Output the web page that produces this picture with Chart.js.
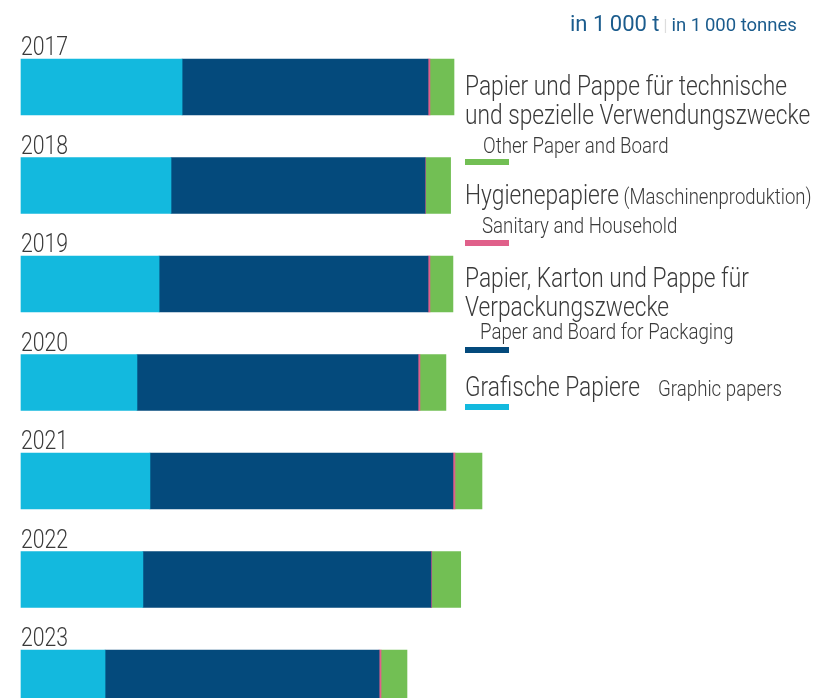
<!DOCTYPE html>
<html lang="de">
<head>
<meta charset="utf-8">
<title>Papierproduktion nach Sorten</title>
<script src="https://cdn.jsdelivr.net/npm/chart.js@4.4.1/dist/chart.umd.min.js"></script>
<style>
  body { margin: 0; background: #fff; }
  #wrap { position: relative; width: 818px; height: 698px; overflow: hidden; }
  #chart { position: absolute; left: 0; top: 0; }
  .txt { position: absolute; white-space: nowrap; font-family: Roboto, sans-serif; font-weight: 300; color: #3a3a3a; line-height: 28.5px; transform-origin: 0 0; }
  .de { font-size: 27px; transform: scaleX(0.842); }
  .en { font-size: 22px; transform: scaleX(0.85); }
  .note { font-size: 22px; }
  .swatch { position: absolute; width: 44px; height: 6px; }
  #unit { position: absolute; left: 570px; top: 11px; font-family: Roboto, sans-serif; color: #1b5c8d; white-space: nowrap; }
</style>
</head>
<body>
<div id="wrap">
  <canvas id="chart" width="818" height="698"></canvas>
  <div id="unit"><span style="font-size:22px">in 1&#8201;000 t</span> <span style="color:#ddd;font-size:16px">|</span> <span style="font-size:18.5px">in 1&#8201;000 tonnes</span></div>
</div>
<script>
'use strict';

// *********** DATA (in 1000 t) ***********
let years = ['2017', '2018', '2019', '2020', '2021', '2022', '2023'];

let graphicPapers = [7570, 7050, 6490, 5450, 6060, 5730, 3950];
let packaging = [11560, 11940, 12640, 13210, 14240, 13540, 12880];
let sanitary = [90, 25, 90, 90, 95, 35, 90];
let otherPaper = [1130, 1175, 1080, 1220, 1270, 1360, 1220];

let seriesEn = ['Graphic papers', 'Paper and Board for Packaging', 'Sanitary and Household', 'Other Paper and Board'];
let seriesDe = ['Grafische Papiere', 'Papier, Karton und Pappe für\nVerpackungszwecke', 'Hygienepapiere', 'Papier und Pappe für technische\nund spezielle Verwendungszwecke'];
let seriesNote = ['', '', '(Maschinenproduktion)', ''];
let seriesColors = ['#13b9de', '#044a7c', '#e0608a', '#72bf54'];

// ******* DOM REFERENCES ******************
let wrap = document.getElementById('wrap');
let ctx = document.getElementById('chart').getContext('2d');

// year label above each bar
let yearLabels = {
  id: 'yearLabels',
  afterDatasetsDraw(chart) {
    let yScale = chart.scales.y;
    let c = chart.ctx;
    c.save();
    c.font = '300 25px Roboto, sans-serif';
    c.fillStyle = '#3a3a3a';
    c.textBaseline = 'alphabetic';
    for (let i = 0; i < years.length; i++) {
      let y = yScale.getPixelForValue(i) - 28 - 4;
      c.save();
      c.translate(chart.chartArea.left, y);
      c.scale(0.85, 1);
      c.fillText(years[i], 0, 0);
      c.restore();
    }
    c.restore();
  }
};

let seriesData = [graphicPapers, packaging, sanitary, otherPaper];
let datasets = [];
for (let i = 0; i < seriesData.length; i++) {
  datasets.push({
    label: seriesEn[i],
    data: seriesData[i],
    backgroundColor: seriesColors[i],
    borderWidth: 0,
    barThickness: 56,
    clip: false
  });
}

let myChart = new Chart(ctx, {
  type: 'bar',
  data: { labels: years, datasets: datasets },
  options: {
    indexAxis: 'y',
    responsive: false,
    animation: false,
    layout: { padding: { top: 87, bottom: 20, left: 21, right: 31 } },
    scales: {
      x: { stacked: true, display: false, min: 0, max: 36000 },
      y: { stacked: true, display: false, offset: false }
    },
    plugins: {
      legend: { display: false },
      tooltip: { enabled: false }
    }
  },
  plugins: [yearLabels]
});

// ********** LEGEND (right side) *************
// top positions for each legend block, same order as the series
let legendTops = [
  { de: 373, en: 375, enX: 658, sw: 404 },   // graphic
  { de: 264, en: 318, enX: 480, sw: 347 },   // packaging
  { de: 181, en: 212, enX: 482, sw: 240 },   // sanitary
  { de: 72, en: 132, enX: 483, sw: 159 }     // other
];

function addText(cls, text, x, y) {
  let el = document.createElement('div');
  el.className = 'txt ' + cls;
  el.style.left = x + 'px';
  el.style.top = y + 'px';
  el.innerText = text;
  wrap.appendChild(el);
  return el;
}

for (let i = 0; i < seriesEn.length; i++) {
  let pos = legendTops[i];
  let de = addText('de', seriesDe[i], 465, pos.de);
  if (seriesNote[i]) {
    let note = document.createElement('span');
    note.className = 'note';
    note.innerText = ' ' + seriesNote[i];
    de.appendChild(note);
  }
  addText('en', seriesEn[i], pos.enX, pos.en);
  let sw = document.createElement('div');
  sw.className = 'swatch';
  sw.style.left = '465px';
  sw.style.top = pos.sw + 'px';
  sw.style.background = seriesColors[i];
  wrap.appendChild(sw);
}
</script>
</body>
</html>
